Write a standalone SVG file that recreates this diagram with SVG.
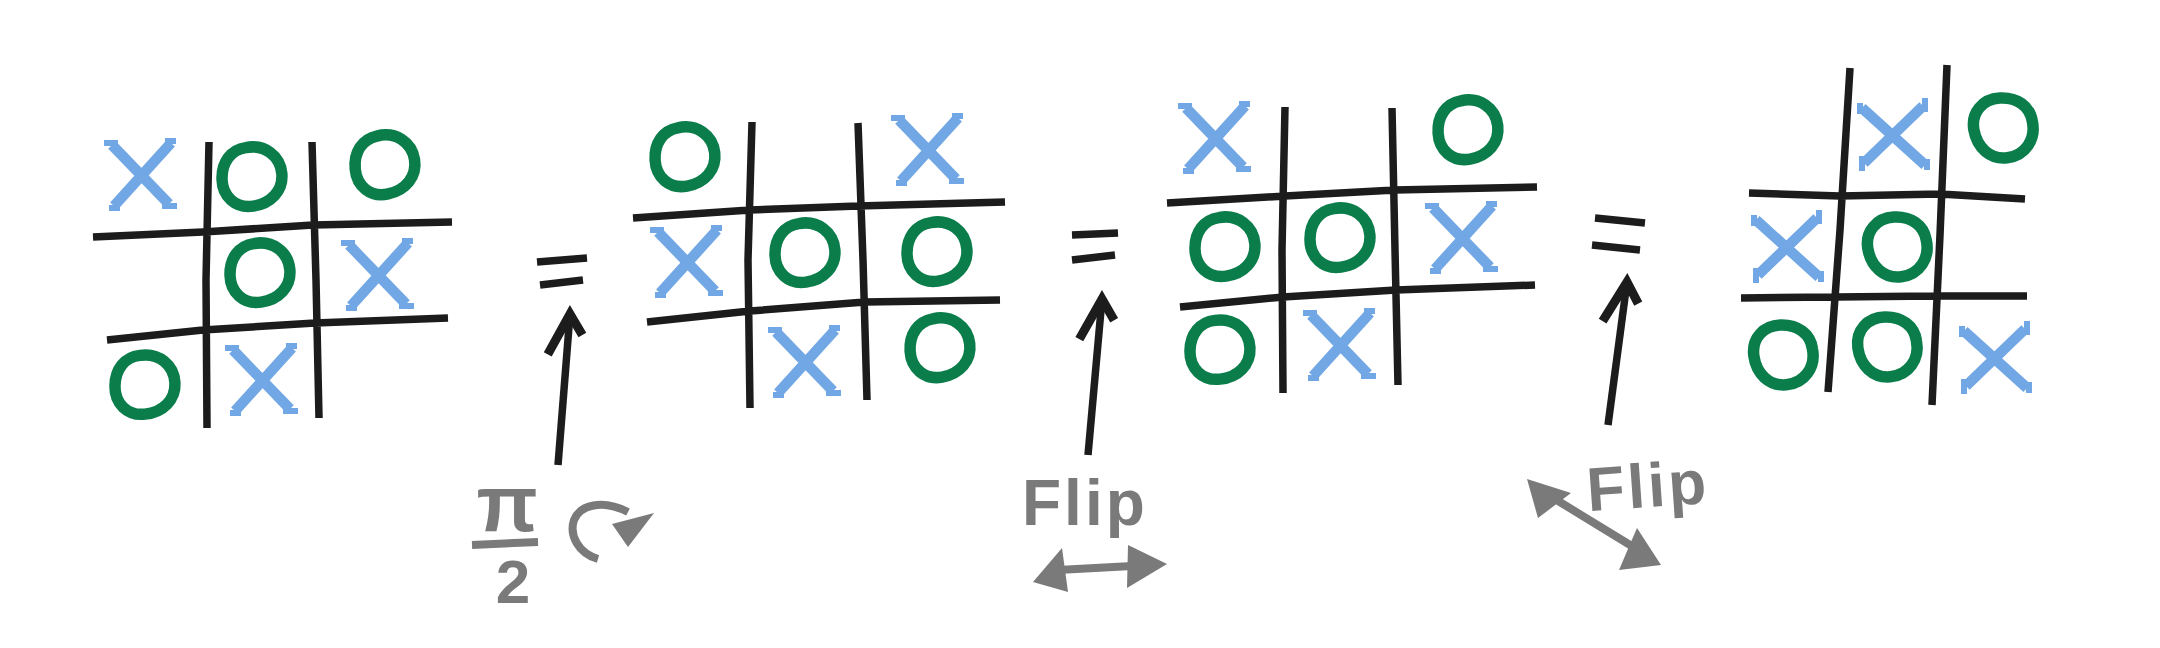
<svg xmlns="http://www.w3.org/2000/svg" xmlns:xlink="http://www.w3.org/1999/xlink" width="2160" height="648" viewBox="0 0 2160 648">
<style>
.grid{fill:none;stroke:#1c1c1c;stroke-width:7.5;stroke-linejoin:round}
.o{fill:none;stroke:#0b7d4b;stroke-width:11.5}
.xs{fill:none;stroke:#72a7e5;stroke-width:10.5}
.xt{fill:none;stroke:#72a7e5;stroke-width:6}
.eq{stroke:#1c1c1c;stroke-width:7.5}
.arr{fill:none;stroke:#1c1c1c;stroke-width:7.5}
.gr{fill:#7a7a7a}
.grs{fill:none;stroke:#7a7a7a;stroke-width:8}
.lbl{font-family:"Liberation Sans",Arial,sans-serif;font-weight:bold;fill:#7a7a7a}
</style>
<defs>
<path id="o" d="M-2,-30 C17,-31 31,-17 30,1 C29,18 15,29 -3,29 C-21,29 -32,15 -30,-2 C-28,-19 -17,-30 -2,-30 Z"/>
<g id="x">
<path class="xs" d="M-29,-30 L28,29 M30,-32 L-27,31"/>
<path class="xt" d="M-37,-32 H-23 M24,-34 H35 M-32,33 H-21 M21,31 H36"/>
</g>
<marker id="head" markerUnits="userSpaceOnUse" markerWidth="80" markerHeight="80" refX="0" refY="0" orient="auto" viewBox="-50 -40 80 80" overflow="visible">
<path d="M-42,-19 L0,0 L-20,14" fill="none" stroke="#1c1c1c" stroke-width="9" stroke-linejoin="miter"/>
</marker>
</defs>
<rect width="2160" height="648" fill="#fff"/>

<g id="board1">
<path class="grid" d="M209,142 L206,280 L207,428 M312,142 L316,280 L319,418 M93,237 L203,232 L313,225 L452,222 M107,340 L203,330 L315,323 L448,318"/>
<use href="#x" xlink:href="#x" transform="translate(141,175)"/>
<use class="o" href="#o" xlink:href="#o" transform="translate(252,177) rotate(-8)"/>
<use class="o" href="#o" xlink:href="#o" transform="translate(385,165) rotate(-12)"/>
<use class="o" href="#o" xlink:href="#o" transform="translate(260,273) rotate(-8)"/>
<use href="#x" xlink:href="#x" transform="translate(378,275)"/>
<use class="o" href="#o" xlink:href="#o" transform="translate(145,385) rotate(-6)"/>
<use href="#x" xlink:href="#x" transform="translate(262,380)"/>
</g>

<g id="board2">
<path class="grid" d="M752,122 L748,260 L750,408 M858,123 L863,260 L867,400 M633,218 L750,210 L858,206 L1005,202 M647,322 L750,311 L865,302 L1000,300"/>
<use class="o" href="#o" xlink:href="#o" transform="translate(685,157) rotate(-10)"/>
<use href="#x" xlink:href="#x" transform="translate(928,150)"/>
<use href="#x" xlink:href="#x" transform="translate(687,262)"/>
<use class="o" href="#o" xlink:href="#o" transform="translate(805,253) rotate(-8)"/>
<use class="o" href="#o" xlink:href="#o" transform="translate(937,252) rotate(-8)"/>
<use href="#x" xlink:href="#x" transform="translate(805,362)"/>
<use class="o" href="#o" xlink:href="#o" transform="translate(940,348) rotate(-10)"/>
</g>

<g id="board3">
<path class="grid" d="M1285,107 L1282,250 L1283,393 M1392,108 L1395,250 L1398,385 M1167,203 L1285,196 L1395,190 L1537,187 M1180,307 L1283,297 L1396,290 L1535,285"/>
<use href="#x" xlink:href="#x" transform="translate(1215,138)"/>
<use class="o" href="#o" xlink:href="#o" transform="translate(1468,130) rotate(-10)"/>
<use class="o" href="#o" xlink:href="#o" transform="translate(1225,247) rotate(-8)"/>
<use class="o" href="#o" xlink:href="#o" transform="translate(1340,238) rotate(-8)"/>
<use href="#x" xlink:href="#x" transform="translate(1462,238)"/>
<use class="o" href="#o" xlink:href="#o" transform="translate(1220,350) rotate(-6)"/>
<use href="#x" xlink:href="#x" transform="translate(1340,345)"/>
</g>

<g id="board4">
<path class="grid" d="M1850,68 L1840,230 L1828,392 M1947,65 L1940,235 L1932,405 M1749,193 L1840,196 L1940,194 L2025,199 M1741,298 L1835,297 L1935,296 L2027,296"/>
<use href="#x" xlink:href="#x" transform="translate(1893,135) rotate(90)"/>
<use class="o" href="#o" xlink:href="#o" transform="translate(2003,128) rotate(80)"/>
<use href="#x" xlink:href="#x" transform="translate(1787,247) rotate(90)"/>
<use class="o" href="#o" xlink:href="#o" transform="translate(1897,247) rotate(80)"/>
<use class="o" href="#o" xlink:href="#o" transform="translate(1783,355) rotate(82)"/>
<use class="o" href="#o" xlink:href="#o" transform="translate(1887,347) rotate(82)"/>
<use href="#x" xlink:href="#x" transform="translate(1995,358) rotate(90)"/>
</g>

<g id="eq1"><path class="eq" d="M537,262 L587,258 M540,285 L583,280"/></g>
<g id="eq2"><path class="eq" d="M1072,235 L1118,233 M1072,260 L1115,255"/></g>
<g id="eq3"><path class="eq" d="M1595,218 L1645,223 M1592,245 L1640,250"/></g>

<g id="connectors">
<path class="arr" d="M558,465 L570,314" marker-end="url(#head)"/>
<path class="arr" d="M1088,455 L1102,299" marker-end="url(#head)"/>
<path class="arr" d="M1608,425 L1627,282" marker-end="url(#head)"/>
</g>

<g id="label-rotate">
<text class="lbl" x="507" y="531" font-size="80" text-anchor="middle">π</text>
<path class="grs" d="M472,545 L538,542" stroke-width="7"/>
<text class="lbl" x="513" y="603" font-size="62" text-anchor="middle">2</text>
<path class="grs" d="M598,559 C578,553 569,535 574,520 C580,505 602,499 628,512" stroke-width="10"/>
<path class="gr" d="M612,524 L654,513 L628,547 Z"/>
</g>

<g id="label-flip1">
<text class="lbl" x="1022" y="525" font-size="64" letter-spacing="3">Flip</text>
<path class="grs" d="M1058,570 L1132,566"/>
<path class="gr" d="M1033,582 L1062,548 L1068,592 Z"/>
<path class="gr" d="M1128,545 L1167,564 L1127,588 Z"/>
</g>

<g id="label-flip2">
<text class="lbl" x="1587" y="507" font-size="62" letter-spacing="3" transform="rotate(-4 1650 490)">Flip</text>
<path class="grs" d="M1550,496 L1635,548"/>
<path class="gr" d="M1527,479 L1571,493 L1538,518 Z"/>
<path class="gr" d="M1661,565 L1637,528 L1619,570 Z"/>
</g>
</svg>
